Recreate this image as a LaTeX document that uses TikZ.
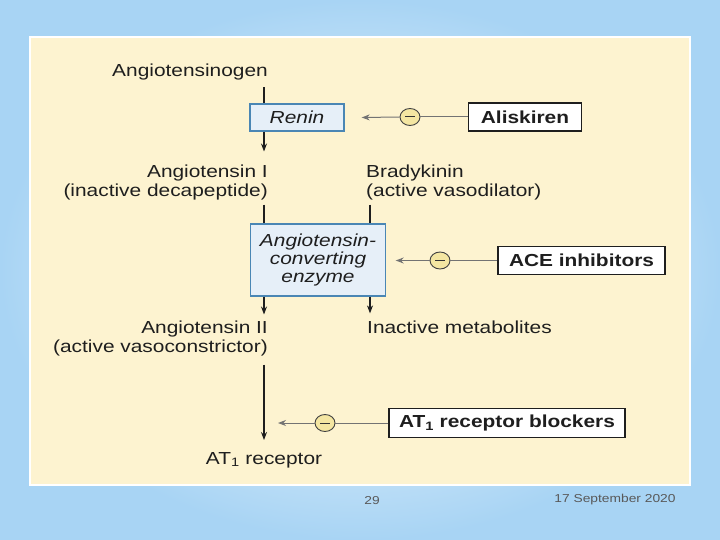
\documentclass[tikz,border=0pt]{standalone}
\usepackage{fontspec}
\setmainfont{Liberation Sans}[FakeStretch=1.2]
\usetikzlibrary{arrows.meta,calc,shapes.geometric}
\definecolor{cream}{HTML}{FDF3D0}
\definecolor{enzf}{HTML}{E6EFF8}
\definecolor{enzb}{HTML}{4A86B4}
\definecolor{minusf}{HTML}{F4E6A2}
\definecolor{slideblue}{HTML}{A8D4F4}
\definecolor{ink}{HTML}{1E1E1E}
\begin{document}
\begin{tikzpicture}[x=1pt,y=-1pt,
  txt/.style={inner sep=0pt, text=ink, font=\fontsize{17.4}{19.5}\selectfont},
  enz/.style={draw=enzb, fill=enzf, line width=1.4pt, text=ink,
    font=\fontsize{17.4}{18}\selectfont\itshape, align=center, inner sep=0pt},
  drug/.style={draw=ink, fill=white, line width=1.2pt, text=ink,
    font=\fontsize{17.4}{19}\selectfont\bfseries, inner sep=0pt, minimum height=28pt},
  pathline/.style={draw=ink, line width=1.2pt},
  arr/.style={pathline, -{Stealth[length=8pt,width=6pt]}},
  inh/.style={draw=black!55, line width=1pt},
  inharr/.style={inh, -{Stealth[length=8pt,width=6pt]}},
  minus/.style={ellipse, draw=black!75, fill=minusf, minimum width=20pt,
    minimum height=17pt, inner sep=0pt, line width=0.9pt,
    path picture={\draw[line width=1pt, black!80]
      ([xshift=-5pt]path picture bounding box.center) --
      ([xshift=5pt]path picture bounding box.center);}},
  foot/.style={inner sep=0pt, text=black!65, font=\fontsize{11.5}{13}\selectfont},
]
\useasboundingbox (0,0) rectangle (720,540);
% slide background
\shade[inner color=white, outer color=slideblue] (0,0) rectangle (720,540);
\fill[cream, draw=white, line width=1.5pt] (30,37) rectangle (690,485);

\coordinate (cx) at (264,0);
\coordinate (bx) at (370,0);

% pathway nodes
\node[txt, anchor=east] (agen) at (268,72) {Angiotensinogen};
\node[enz, minimum width=94pt, minimum height=27pt] (ren) at (297,117.5) {Renin};
\node[txt, anchor=north east, align=right] (ang1) at (268,164.5)
  {Angiotensin I\\(inactive decapeptide)};
\node[txt, anchor=north west, align=left] (brady) at (366,164.5)
  {Bradykinin\\(active vasodilator)};
\node[enz, minimum width=135pt, minimum height=72pt] (ace) at (318,260)
  {Angiotensin-\\converting\\enzyme};
\node[txt, anchor=north east, align=right] (ang2) at (268,320.5)
  {Angiotensin II\\(active vasoconstrictor)};
\node[txt, anchor=west] (inact) at (367,327) {Inactive metabolites};
\node[txt] (at1r) at (264,460) {AT\textsubscript{1} receptor};

% drugs
\node[drug, minimum width=113pt] (alis) at (525,117) {Aliskiren};
\node[drug, minimum width=167pt] (acei) at (581.5,260.5) {ACE inhibitors};
\node[drug, minimum width=236pt, minimum height=29pt] (at1b) at (507,423)
  {AT\textsubscript{1} receptor blockers};

% minus circles
\node[minus] (m1) at (410,117) {};
\node[minus] (m2) at (440,260.5) {};
\node[minus] (m3) at (325,423) {};

% pathway connectors
\draw[pathline] ($(agen.south -| cx)+(0,7)$) -- (ren.north -| cx);
\draw[arr] (ren.south -| cx) -- ($(ang1.north -| cx)+(0,-13)$);
\draw[pathline] ($(ang1.south -| cx)+(0,4)$) -- (ace.north -| cx);
\draw[pathline] ($(brady.south -| bx)+(0,4)$) -- (ace.north -| bx);
\draw[arr] (ace.south -| cx) -- ($(ang2.north -| cx)+(0,-6)$);
\draw[arr] (ace.south -| bx) -- ($(inact.north -| bx)+(0,-7)$);
\draw[arr] ($(ang2.south -| cx)+(0,8)$) -- ($(at1r.north -| cx)+(0,-12)$);

% inhibition connectors
\draw[inh] (alis.west) -- (m1.east);
\draw[inharr] (m1.west) -- ($(ren.east)+(17,0)$);
\draw[inh] (acei.west) -- (m2.east);
\draw[inharr] (m2.west) -- ($(ace.east |- m2)+(9.5,0)$);
\draw[inh] (at1b.west) -- (m3.east);
\draw[inharr] (m3.west) -- ($(cx |- m3)+(14,0)$);

% footer
\node[foot] (pg) at (372,501) {29};
\node[foot] (dt) at (615,500) {17 September 2020};
\end{tikzpicture}
\end{document}
